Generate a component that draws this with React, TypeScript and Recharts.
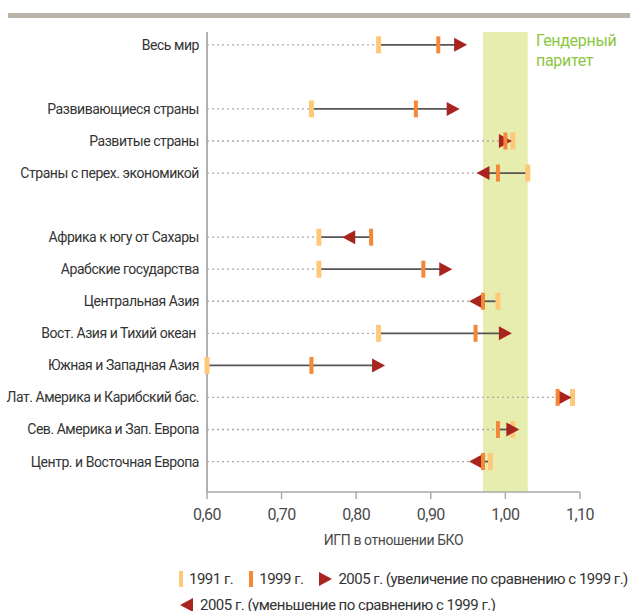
import React from "react";
import {
  ScatterChart,
  Scatter,
  XAxis,
  YAxis,
  ReferenceArea,
  ReferenceLine,
} from "recharts";

const regions = [
  "Весь мир",
  "Развивающиеся страны",
  "Развитые страны",
  "Страны с перех. экономикой",
  "Африка к югу от Сахары",
  "Арабские государства",
  "Центральная Азия",
  "Вост. Азия и Тихий океан ",
  "Южная и Западная Азия",
  "Лат. Америка и Карибский бас.",
  "Сев. Америка и Зап. Европа",
  "Центр. и Восточная Европа",
];
const rowPos = [0, 2, 3, 4, 6, 7, 8, 9, 10, 11, 12, 13];
const gpi1991 = [0.83, 0.74, 1.01, 1.03, 0.75, 0.75, 0.99, 0.83, 0.6, 1.09, 1.01, 0.98];
const gpi1999 = [0.91, 0.88, 1.0, 0.99, 0.82, 0.89, 0.97, 0.96, 0.74, 1.07, 0.99, 0.97];
const gpi2005 = [0.94, 0.93, 1.0, 0.97, 0.79, 0.92, 0.96, 1.0, 0.83, 1.08, 1.01, 0.96];
const xTicks = [0.6, 0.7, 0.8, 0.9, 1.0, 1.1];
const parityBand = [0.97, 1.03];
const xMin = 0.6;

const FONT = 'Roboto, "Liberation Sans", sans-serif';
const C1991 = "#fdc878";
const C1999 = "#f4883a";
const C2005 = "#a8241f";

const d1991 = regions.map((r, i) => ({ x: gpi1991[i], y: rowPos[i] }));
const d1999 = regions.map((r, i) => ({ x: gpi1999[i], y: rowPos[i] }));
const d2005 = regions.map((r, i) => ({
  x: gpi2005[i],
  y: rowPos[i],
  up: gpi2005[i] >= gpi1999[i],
}));

const rowName = (v: number) => {
  const i = rowPos.indexOf(v);
  return i >= 0 ? regions[i] : "";
};

const YTick = (p: any) => (
  <text
    x={p.x}
    y={p.y}
    dy={5}
    textAnchor="end"
    fontSize={14}
    fill="#333333"
    fontFamily={FONT}
    letterSpacing={-0.45}
    style={{ whiteSpace: "pre" }}
  >
    {rowName(p.payload.value)}
  </text>
);

const XTick = (p: any) => (
  <text
    x={p.x}
    y={p.y}
    dy={12}
    textAnchor="middle"
    fontSize={16}
    fill="#4a4a4a"
    fontFamily={FONT}
    letterSpacing={-0.5}
  >
    {Number(p.payload.value).toFixed(2).replace(".", ",")}
  </text>
);

const Bar1991 = (p: any) => (
  <rect x={p.cx - 2.5} y={p.cy - 8.5} width={5} height={17} fill={C1991} />
);
const Bar1999 = (p: any) => (
  <rect x={p.cx - 2} y={p.cy - 8.5} width={4} height={17} fill={C1999} />
);
const Arrow = (p: any) => {
  const { cx, cy, payload } = p;
  const w = 6.5;
  const h = 7;
  const pts = payload.up
    ? `${cx - w},${cy - h} ${cx + w},${cy} ${cx - w},${cy + h}`
    : `${cx + w},${cy - h} ${cx - w},${cy} ${cx + w},${cy + h}`;
  return <polygon points={pts} fill={C2005} />;
};

const TriIcon = ({ up }: { up: boolean }) => (
  <svg width={13} height={14} style={{ display: "block" }}>
    <polygon points={up ? "0,0 13,7 0,14" : "13,0 0,7 13,14"} fill={C2005} />
  </svg>
);

export default function App() {
  return (
    <div
      style={{
        position: "absolute",
        left: 0,
        top: 0,
        width: 630,
        height: 611,
        overflow: "hidden",
        fontFamily: FONT,
        background: "#fff",
      }}
    >
      <div
        style={{
          position: "absolute",
          left: 8,
          top: 13,
          width: 622,
          height: 5,
          background: "#bbb3a9",
        }}
      />
      <ScatterChart
        width={630}
        height={611}
        margin={{ top: 32, right: 50, left: 0, bottom: 59 }}
      >
        <ReferenceArea
          x1={parityBand[0]}
          x2={parityBand[1]}
          fill="#e6edae"
          fillOpacity={1}
          stroke="none"
          ifOverflow="visible"
        />
        <XAxis
          type="number"
          dataKey="x"
          domain={[0.6, 1.1]}
          ticks={xTicks}
          interval={0}
          height={60}
          tick={<XTick />}
          tickSize={7}
          tickMargin={9}
          stroke="#aaaaaa"
          axisLine={{ stroke: "#aaaaaa", strokeWidth: 1.5 }}
          tickLine={{ stroke: "#aaaaaa", strokeWidth: 1.5 }}
          label={{
            value: "ИГП в отношении БКО",
            position: "insideBottom",
            offset: 7,
            fontSize: 14,
            fill: "#4a4a4a",
            fontFamily: FONT,
            letterSpacing: -0.4,
          }}
        />
        <YAxis
          type="number"
          dataKey="y"
          domain={[-0.4, 13.95]}
          reversed
          ticks={rowPos}
          interval={0}
          width={207}
          tick={<YTick />}
          tickSize={0}
          tickMargin={8}
          tickLine={false}
          axisLine={{ stroke: "#999999", strokeWidth: 1.5 }}
        />
        {regions.map((r, i) => {
          const lo = Math.min(gpi1991[i], gpi1999[i], gpi2005[i]);
          return (
            <ReferenceLine
              key={"dot" + i}
              segment={[
                { x: xMin, y: rowPos[i] },
                { x: lo, y: rowPos[i] },
              ]}
              stroke="#aaaaaa"
              strokeWidth={1.3}
              strokeDasharray="2 3"
              ifOverflow="visible"
            />
          );
        })}
        {regions.map((r, i) => {
          const lo = Math.min(gpi1991[i], gpi1999[i], gpi2005[i]);
          const hi = Math.max(gpi1991[i], gpi1999[i], gpi2005[i]);
          return (
            <ReferenceLine
              key={"seg" + i}
              segment={[
                { x: lo, y: rowPos[i] },
                { x: hi, y: rowPos[i] },
              ]}
              stroke="#555555"
              strokeWidth={1.8}
              ifOverflow="visible"
            />
          );
        })}
        <Scatter data={d1991} shape={Bar1991} isAnimationActive={false} />
        <Scatter data={d2005} shape={Arrow} isAnimationActive={false} />
        <Scatter data={d1999} shape={Bar1999} isAnimationActive={false} />
      </ScatterChart>
      <div
        style={{
          position: "absolute",
          left: 536,
          top: 31,
          color: "#8cc63f",
          fontSize: 16,
          lineHeight: "20px",
          letterSpacing: -0.3,
        }}
      >
        Гендерный
        <br />
        паритет
      </div>
      <div
        style={{
          position: "absolute",
          left: 179,
          top: 570,
          display: "flex",
          alignItems: "center",
          fontSize: 15,
          color: "#333",
          whiteSpace: "nowrap",
          letterSpacing: -0.5,
        }}
      >
        <span style={{ width: 4, height: 16, background: C1991, marginRight: 6 }} />
        <span style={{ marginRight: 16 }}>1991 г.</span>
        <span style={{ width: 4, height: 16, background: C1999, marginRight: 6 }} />
        <span style={{ marginRight: 16 }}>1999 г.</span>
        <TriIcon up={true} />
        <span style={{ marginLeft: 6 }}>2005 г. (увеличение по сравнению с 1999 г.)</span>
      </div>
      <div
        style={{
          position: "absolute",
          left: 180,
          top: 596,
          display: "flex",
          alignItems: "center",
          fontSize: 15,
          color: "#333",
          whiteSpace: "nowrap",
          letterSpacing: -0.5,
        }}
      >
        <TriIcon up={false} />
        <span style={{ marginLeft: 7 }}>2005 г. (уменьшение по сравнению с 1999 г.)</span>
      </div>
    </div>
  );
}
